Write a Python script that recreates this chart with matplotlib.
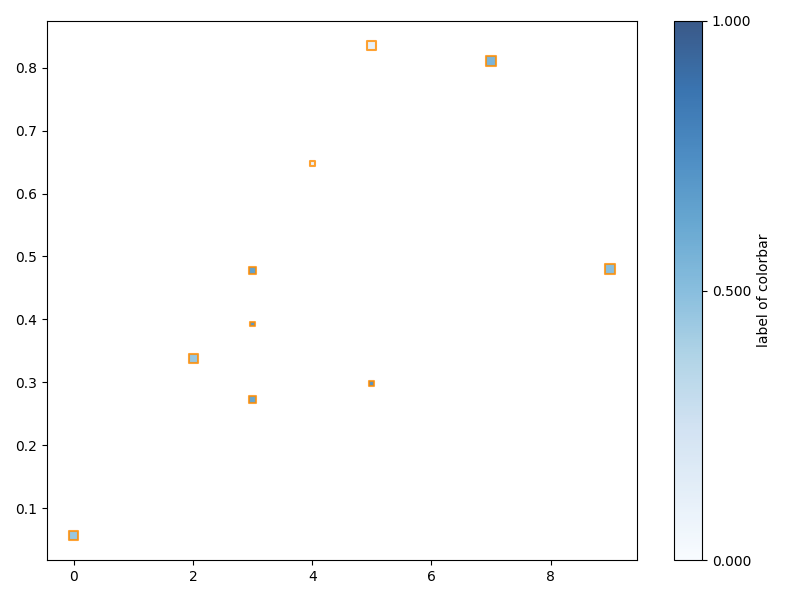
import numpy as np
import matplotlib.pyplot as plt

## scatter of squares, fill colour from a colormap, size varies

x = [0, 2, 3, 3, 3, 4, 5, 5, 7, 9]
y = [0.057, 0.338, 0.478, 0.393, 0.273, 0.648, 0.835, 0.298, 0.811, 0.480]
c = [0.45, 0.45, 0.65, 0.70, 0.63, 0.08, 0.10, 0.72, 0.55, 0.50]
s = [42, 42, 25, 10, 25, 13, 42, 12, 52, 52]

cbar_ticks = [0.0, 0.5, 1.0]

fig = plt.figure(figsize=(8, 6), dpi=100)
ax = fig.add_axes([47/800, 40/600, 590/800, 539/600])
cax = fig.add_axes([674/800, 40/600, 28/800, 539/600])

sc = ax.scatter(x, y, c=c, s=s, marker='s', cmap='Blues', vmin=0, vmax=1,
                edgecolors='darkorange', linewidths=1.5, alpha=0.8)

cb = fig.colorbar(sc, cax=cax, ticks=cbar_ticks, format='%.3f')
cb.set_label('label of colorbar')

fig.savefig('out.png')
